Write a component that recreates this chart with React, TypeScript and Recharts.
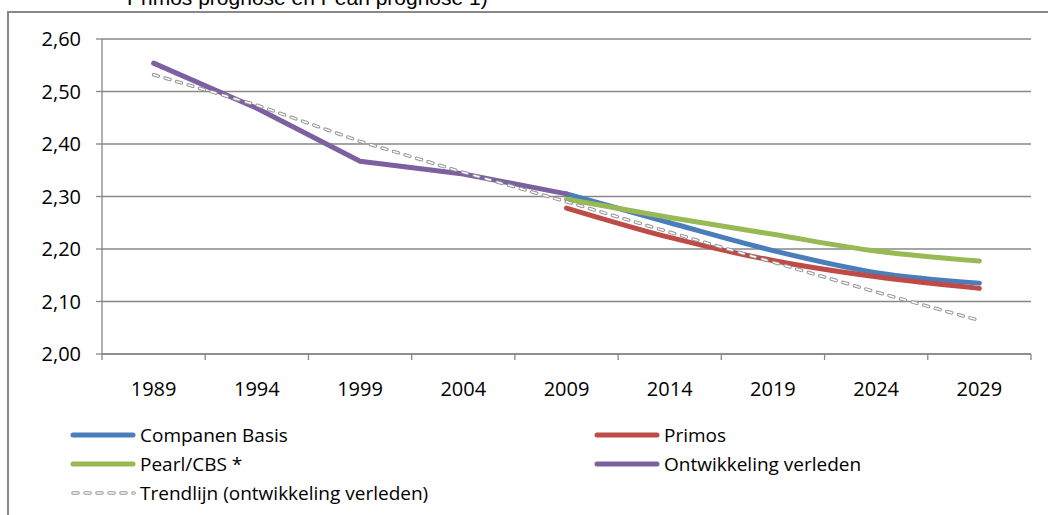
import React from 'react';
import { LineChart, Line, XAxis, YAxis, CartesianGrid } from 'recharts';

const years = ['1989', '1994', '1999', '2004', '2009', '2014', '2019', '2024', '2029'];
const companenBasis = [null, null, null, null, 2.305, 2.25, 2.197, 2.155, 2.135];
const primos = [null, null, null, null, 2.278, 2.222, 2.178, 2.147, 2.125];
const pearlCbs = [null, null, null, null, 2.295, 2.26, 2.228, 2.196, 2.177];
const ontwikkelingVerleden = [2.554, 2.468, 2.367, 2.343, 2.305, null, null, null, null];
const trendlijn = [2.532, 2.474, 2.405, 2.346, 2.29, 2.232, 2.175, 2.118, 2.064];
const yTicks = [2.0, 2.1, 2.2, 2.3, 2.4, 2.5, 2.6];
const title = 'Primos prognose en Pearl prognose 1)';

const seriesNames = {
  companen: 'Companen Basis',
  primos: 'Primos',
  pearl: 'Pearl/CBS *',
  ontw: 'Ontwikkeling verleden',
  trend: 'Trendlijn (ontwikkeling verleden)',
};
const colors = {
  companen: '#4A7EBB',
  primos: '#BE4B48',
  pearl: '#98B954',
  ontw: '#7D60A0',
  trend: '#959595',
};

const data = years.map((year, i) => ({
  pos: i + 0.5,
  year,
  companen: companenBasis[i],
  primos: primos[i],
  pearl: pearlCbs[i],
  ontw: ontwikkelingVerleden[i],
  trend: trendlijn[i],
}));

const xTicks: number[] = [];
years.forEach((_, i) => {
  xTicks.push(i, i + 0.5);
});
xTicks.push(years.length);

const GRID = '#878787';
const FONT = "'Open Sans', sans-serif";
const DASH = '5 7';

const XTick = (props: any) => {
  const { x, y, payload } = props;
  const v = payload.value as number;
  if (Number.isInteger(v)) {
    return <line x1={x} x2={x} y1={y} y2={y + 6} stroke={GRID} strokeWidth={1.3} />;
  }
  const label = years[Math.round(v - 0.5)];
  return (
    <text x={x} y={y + 42} textAnchor="middle" fill="#000" fontSize={20} fontFamily={FONT}>
      {label}
    </text>
  );
};

const fmt = (v: number) => v.toFixed(2).replace('.', ',');

const legendItems = [
  { key: 'companen', dashed: false },
  { key: 'primos', dashed: false },
  { key: 'pearl', dashed: false },
  { key: 'ontw', dashed: false },
  { key: 'trend', dashed: true },
];

const LegendSample = ({ color, dashed }: { color: string; dashed: boolean }) => (
  <svg width={66} height={12} style={{ display: 'block', flex: 'none' }}>
    {dashed ? (
      <>
        <line x1={3} x2={64} y1={6} y2={6} stroke={color} strokeWidth={3.5} strokeDasharray={DASH} strokeLinecap="round" />
        <line x1={3} x2={64} y1={6} y2={6} stroke="#fff" strokeWidth={1.5} strokeDasharray={DASH} strokeLinecap="round" />
      </>
    ) : (
      <line x1={3} x2={63} y1={6} y2={6} stroke={color} strokeWidth={5} strokeLinecap="round" />
    )}
  </svg>
);

export default function App() {
  return (
    <div style={{ position: 'fixed', left: 0, top: 0, width: 1048, height: 515, overflow: 'hidden', background: '#fff' }}>
      <div
        style={{
          position: 'absolute',
          left: 7,
          top: 11,
          width: 1100,
          height: 600,
          border: '2px solid #888',
          boxSizing: 'border-box',
        }}
      />
      <div
        style={{
          position: 'absolute',
          left: 127,
          top: -13.5,
          fontFamily: "'Liberation Sans', Arial, sans-serif",
          fontSize: 21,
          lineHeight: '21px',
          whiteSpace: 'nowrap',
          color: '#000',
        }}
      >
        {title}
      </div>
      <div style={{ position: 'absolute', left: 0, top: 0 }}>
        <LineChart width={1048} height={515} data={data} margin={{ top: 39, right: 17, bottom: 121, left: 0 }}>
          <CartesianGrid horizontal vertical={false} stroke={GRID} strokeWidth={1.3} />
          <XAxis
            dataKey="pos"
            type="number"
            domain={[0, years.length]}
            ticks={xTicks}
            interval={0}
            tickLine={false}
            tickSize={0}
            tickMargin={0}
            axisLine={{ stroke: GRID, strokeWidth: 1.3 }}
            tick={<XTick />}
            height={40}
          />
          <YAxis
            type="number"
            domain={[2.0, 2.6]}
            ticks={yTicks}
            interval={0}
            width={102}
            tickFormatter={fmt}
            tickSize={6}
            tickMargin={15}
            axisLine={{ stroke: GRID, strokeWidth: 1.3 }}
            tickLine={{ stroke: GRID, strokeWidth: 1.3 }}
            tick={{ fill: '#000', fontSize: 20, fontFamily: FONT }}
          />
          <Line dataKey="companen" type="monotone" stroke={colors.companen} strokeWidth={5} strokeLinecap="round" dot={false} isAnimationActive={false} />
          <Line dataKey="primos" type="monotone" stroke={colors.primos} strokeWidth={5} strokeLinecap="round" dot={false} isAnimationActive={false} />
          <Line dataKey="pearl" type="monotone" stroke={colors.pearl} strokeWidth={5} strokeLinecap="round" dot={false} isAnimationActive={false} />
          <Line dataKey="ontw" type="linear" stroke={colors.ontw} strokeWidth={5} strokeLinecap="round" strokeLinejoin="round" dot={false} isAnimationActive={false} />
          <Line dataKey="trend" type="linear" stroke={colors.trend} strokeWidth={3.5} strokeDasharray={DASH} strokeLinecap="round" dot={false} isAnimationActive={false} />
          <Line dataKey="trend" type="linear" stroke="#fff" strokeWidth={1.5} strokeDasharray={DASH} strokeLinecap="round" dot={false} isAnimationActive={false} />
        </LineChart>
      </div>
      <div
        style={{
          position: 'absolute',
          left: 70,
          top: 420,
          display: 'grid',
          gridTemplateColumns: '524px 420px',
          gridAutoRows: '29.3px',
          fontFamily: FONT,
          fontSize: 19,
          color: '#000',
        }}
      >
        {legendItems.map((it) => (
          <div key={it.key} style={{ display: 'flex', alignItems: 'center', whiteSpace: 'nowrap' }}>
            <LegendSample color={(colors as any)[it.key]} dashed={it.dashed} />
            <span style={{ marginLeft: 4 }}>{(seriesNames as any)[it.key]}</span>
          </div>
        ))}
      </div>
    </div>
  );
}
